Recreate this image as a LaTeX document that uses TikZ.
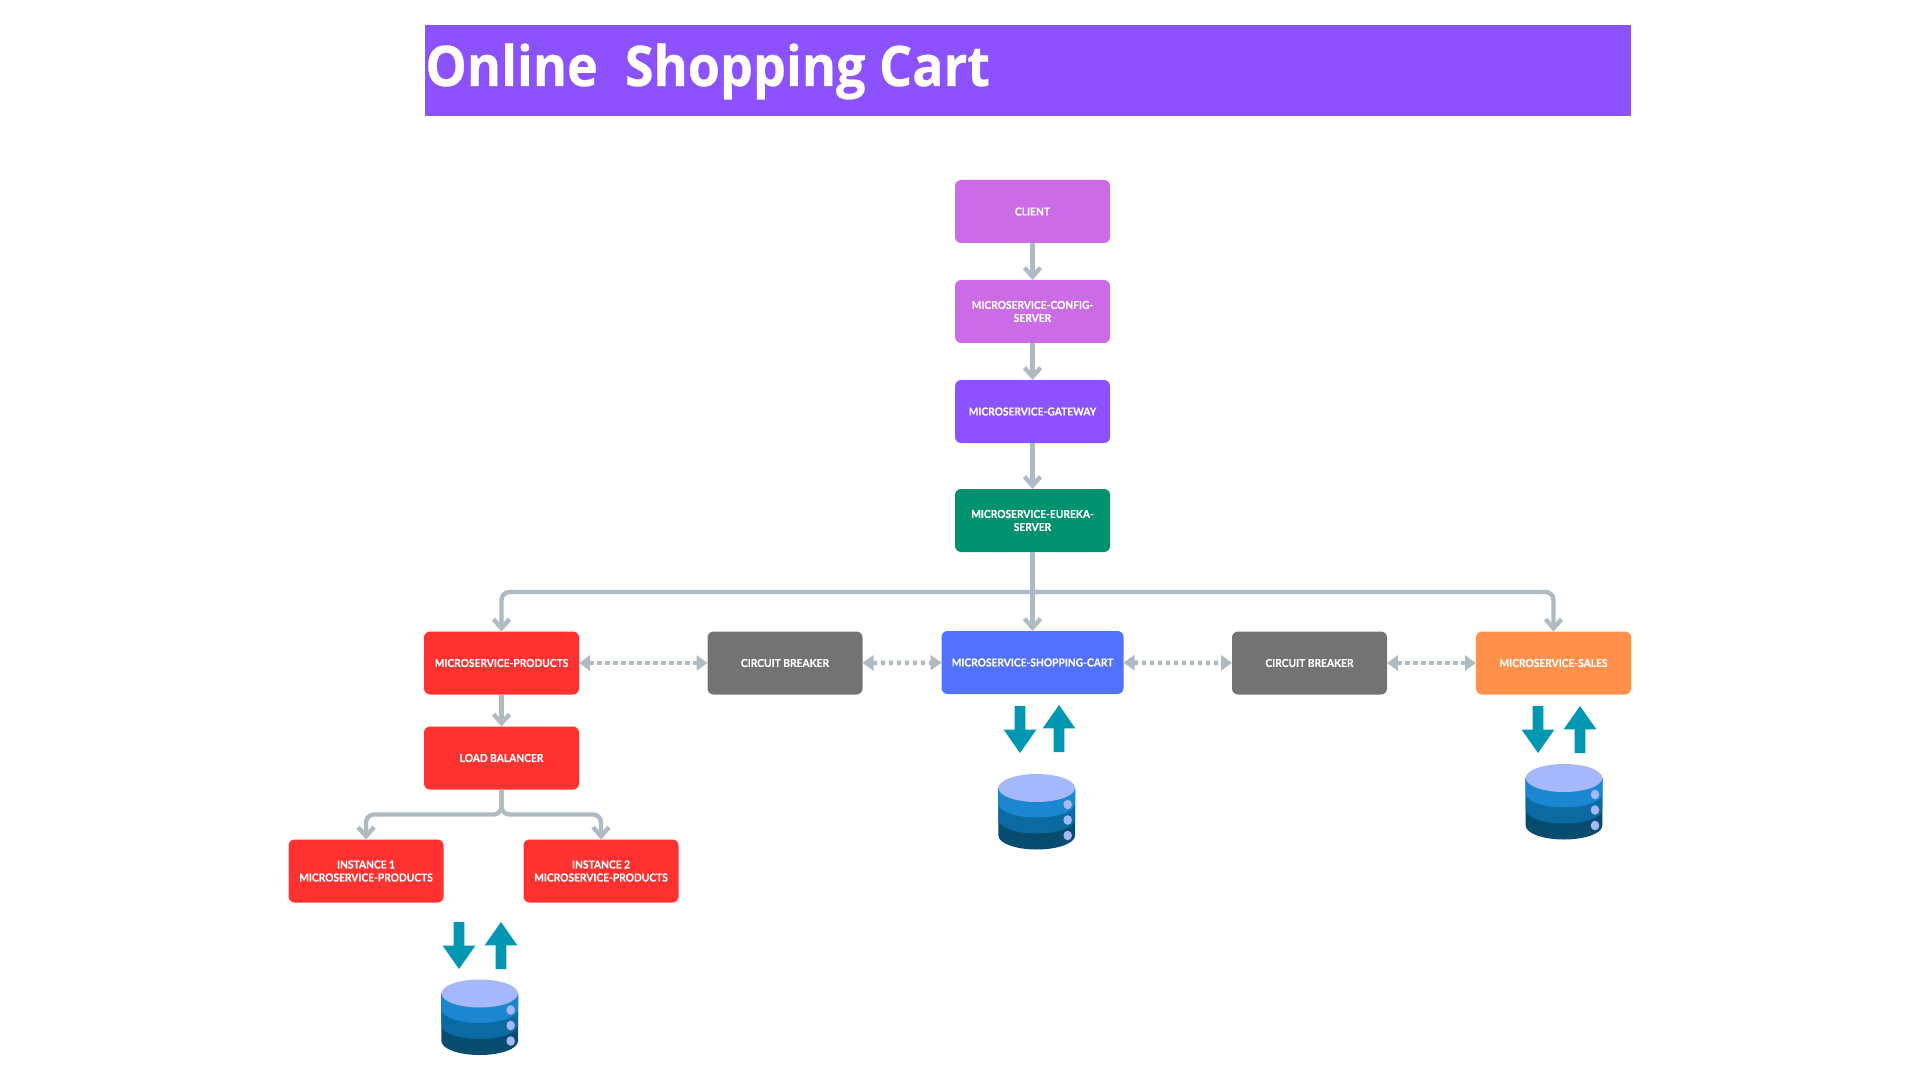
\documentclass[tikz,border=0pt]{standalone}
\usepackage{fontspec}
\setmainfont[FakeStretch=0.93,BoldFeatures={FakeBold=0.3}]{Lato}
\newfontfamily\titlefont[FakeStretch=0.93,BoldFeatures={FakeBold=0.5}]{Open Sans}
\usetikzlibrary{positioning}
\usetikzlibrary{arrows.meta}
\usetikzlibrary{shapes.arrows}
\definecolor{barviolet}{HTML}{8C52FF}
\definecolor{boxorchid}{HTML}{CB6CE6}
\definecolor{boxgreen}{HTML}{00916E}
\definecolor{boxred}{HTML}{FF3131}
\definecolor{boxgrey}{HTML}{737373}
\definecolor{boxblue}{HTML}{5271FF}
\definecolor{boxorange}{HTML}{FF914D}
\definecolor{linegrey}{HTML}{AEBBC3}
\definecolor{dbteal}{HTML}{0097B2}
\definecolor{dbtop}{HTML}{A6B8FC}
\definecolor{dbone}{HTML}{1B87D0}
\definecolor{dbtwo}{HTML}{0B6AA2}
\definecolor{dbthree}{HTML}{064C6E}

\begin{document}
\begin{tikzpicture}[
    x=0.5pt, y=-0.5pt,
    svcnode/.style={rectangle,rounded corners=3pt,minimum width=77.5pt,minimum height=31.5pt,
      inner sep=0pt,outer sep=0pt,align=center,text=white,font=\fontsize{5.5}{6.5}\selectfont\bfseries},
    flow/.style={draw=linegrey,line width=2.2pt,-{Straight Barb[length=4.5pt,width=8pt]},rounded corners=4pt},
    dotflow/.style={draw=linegrey,line width=2.2pt,dash pattern=on 2.2pt off 1.8pt,
      {Triangle[length=5.5pt,width=7.5pt]}-{Triangle[length=5.5pt,width=7.5pt]}},
    dataarrow/.style={single arrow,fill=dbteal,inner sep=2.5pt,outer sep=0pt,minimum height=23.5pt,minimum width=16pt,
      single arrow head extend=5.5pt,single arrow tip angle=70,single arrow head indent=0pt,anchor=tail},
    dbstack/.pic={
      \fill[dbthree] (-38.3,0) -- (-38.3,47.5) arc[start angle=180,end angle=0,x radius=38.3,y radius=14] -- (38.3,0) -- cycle;
      \fill[dbtwo] (-38.3,0) -- (-38.3,31.5) arc[start angle=180,end angle=0,x radius=38.3,y radius=14] -- (38.3,0) -- cycle;
      \fill[dbone] (-38.3,0) -- (-38.3,15.5) arc[start angle=180,end angle=0,x radius=38.3,y radius=14] -- (38.3,0) -- cycle;
      \fill[dbtop] (0,0) ellipse[x radius=38.3,y radius=14];
      \fill[dbtop] (31,16.5) ellipse[x radius=4.3,y radius=4.8];
      \fill[dbtop] (31,32) ellipse[x radius=4.3,y radius=4.8];
      \fill[dbtop] (31,47.5) ellipse[x radius=4.3,y radius=4.8];
    }
    ]

    % title bar
    \fill[barviolet] (425,25) rectangle (1631,116);
    \node[anchor=base west,inner sep=0pt,text=white,font=\titlefont\bfseries\fontsize{28}{30}\selectfont] (title) at (425,86) {Online\ \ Shopping Cart};

    % centre column
    \node[svcnode,fill=boxorchid] (client) at (1032.5,211.5) {CLIENT};
    \node[svcnode,fill=boxorchid,below=18.5pt of client] (config) {MICROSERVICE-CONFIG-\\SERVER};
    \node[svcnode,fill=barviolet,below=18.5pt of config] (gateway) {MICROSERVICE-GATEWAY};
    \node[svcnode,fill=boxgreen,below=23pt of gateway] (eureka) {MICROSERVICE-EUREKA-\\SERVER};

    % service row
    \node[svcnode,fill=boxblue,minimum width=91pt,below=39.5pt of eureka] (cart) {MICROSERVICE-SHOPPING-CART};
    \node[svcnode,fill=boxgrey,right=54.25pt of cart,yshift=-0.25pt] (breakerb) {CIRCUIT BREAKER};
    \node[svcnode,fill=boxorange,right=44.5pt of breakerb] (sales) {MICROSERVICE-SALES};
    \node[svcnode,fill=boxgrey,left=39.5pt of cart,yshift=-0.25pt] (breakera) {CIRCUIT BREAKER};
    \node[svcnode,fill=boxred,left=64.25pt of breakera] (products) {MICROSERVICE-PRODUCTS};

    % products branch
    \node[svcnode,fill=boxred,below=16pt of products] (balancer) {LOAD BALANCER};
    \node[svcnode,fill=boxred,below=25pt of balancer,xshift=-67.75pt] (instancea) {INSTANCE 1\\MICROSERVICE-PRODUCTS};
    \node[svcnode,fill=boxred,below=25pt of balancer,xshift=49.75pt] (instanceb) {INSTANCE 2\\MICROSERVICE-PRODUCTS};

    \coordinate[below=20pt of eureka.south] (bus);
    \coordinate[below=12.5pt of balancer.south] (fork);

    \path (client) edge[flow] (config)
    (config) edge[flow] (gateway)
    (gateway) edge[flow] (eureka)
    (eureka) edge[flow] (cart)
    (products) edge[flow] (balancer)
    (products) edge[dotflow] (breakera)
    (breakera) edge[dotflow] (cart)
    (cart) edge[dotflow] (breakerb)
    (breakerb) edge[dotflow] (sales)
    ;
    \draw[flow] (bus) -| (products.north);
    \draw[flow] (bus) -| (sales.north);
    \draw[flow] (balancer.south) -- (fork) -| (instancea.north);
    \draw[flow] (balancer.south) -- (fork) -| (instanceb.north);

    % data stores
    \node[dataarrow,rotate=-90] (productsdown) at (459,922) {};
    \node[dataarrow,rotate=90] (productsup) at (501,969) {};
    \node[dataarrow,rotate=-90] (cartdown) at (1020,706) {};
    \node[dataarrow,rotate=90] (cartup) at (1059,752) {};
    \node[dataarrow,rotate=-90] (salesdown) at (1538,706) {};
    \node[dataarrow,rotate=90] (salesup) at (1580,753) {};
    \pic (productsdb) at (479.7,993.5) {dbstack};
    \pic (cartdb) at (1036.7,788) {dbstack};
    \pic (salesdb) at (1564,778) {dbstack};

    \useasboundingbox (0,0) rectangle (1920,1080);
  \end{tikzpicture}
\end{document}
